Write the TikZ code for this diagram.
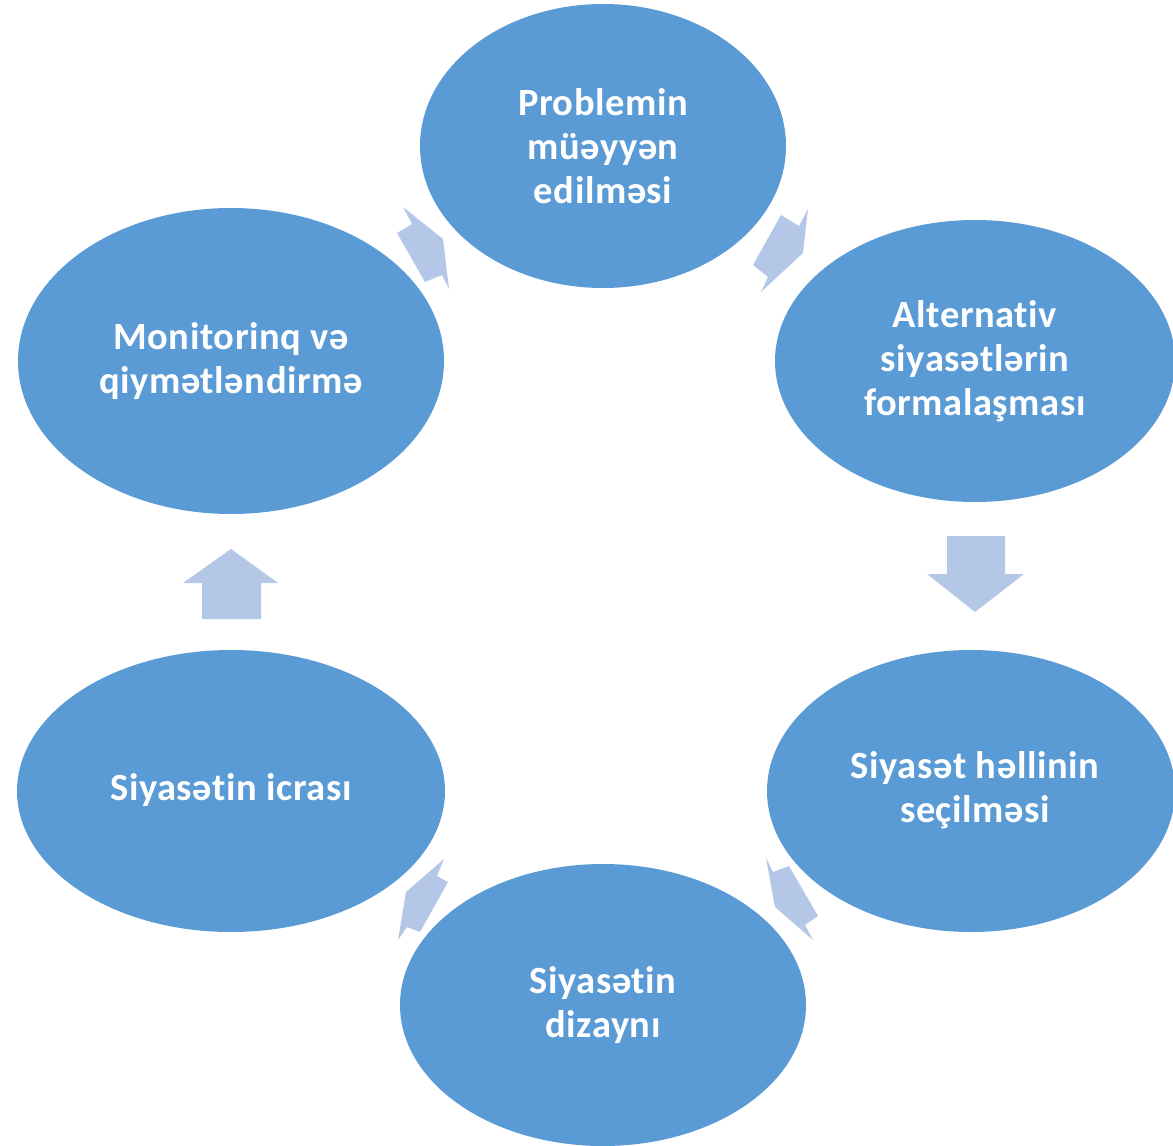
\documentclass[tikz,border=0pt]{standalone}
\usepackage{fontspec}
\setmainfont{Carlito}[Ligatures=NoCommon,LetterSpace=1.5]
\definecolor{ellblue}{HTML}{5B9BD5}
\definecolor{arrblue}{HTML}{B4C7E7}
\begin{document}
\begin{tikzpicture}[x=1pt,y=-1pt,
  lbl/.style={text=white,font=\fontsize{38.5}{44}\selectfont\bfseries,align=center,inner sep=0pt}]
\useasboundingbox (0,0) rectangle (1173,1146);
% ellipses
\fill[ellblue] (603,146) ellipse [x radius=183, y radius=142];
\fill[ellblue] (975,361) ellipse [x radius=200, y radius=141];
\fill[ellblue] (971,791) ellipse [x radius=204, y radius=141];
\fill[ellblue] (603,1005) ellipse [x radius=203, y radius=141];
\fill[ellblue] (231,791) ellipse [x radius=214, y radius=141];
\fill[ellblue] (231,361) ellipse [x radius=213, y radius=153];
% labels
\node[lbl] (p1) at (603,146) {Problemin\\müəyyən\\edilməsi};
\node[lbl] (p2) at (975,361) {Alternativ\\siyasətlərin\\formalaşması};
\node[lbl] (p3) at (975,790) {Siyasət həllinin\\seçilməsi};
\node[lbl] (p4) at (603,1005) {Siyasətin\\dizaynı};
\node[lbl] (p5) at (231,790) {Siyasətin icrası};
\node[lbl] (p6) at (231,361) {Monitorinq və\\qiymətləndirmə};
% arrows
\fill[arrblue] (781,215) -- (799,226) -- (808,209) -- (803,253) -- (761,292) -- (768,277) -- (753,265) -- cycle;
\fill[arrblue] (947,536) -- (1005,536) -- (1005,574) -- (1024,574) -- (975,612) -- (927,574) -- (947,574) -- cycle;
\fill[arrblue] (766,858) -- (773,872) -- (789,866) -- (818,916) -- (805,925) -- (813,940) -- (775,907) -- cycle;
\fill[arrblue] (444,859) -- (437,876) -- (448,882) -- (420,932) -- (407,927) -- (398,940) -- (406,892) -- cycle;
\fill[arrblue] (202,619) -- (261,619) -- (261,583) -- (278,583) -- (231,549) -- (183,583) -- (202,583) -- cycle;
\fill[arrblue] (403,207) -- (412,224) -- (397,233) -- (425,282) -- (442,275) -- (449,289) -- (443,239) -- cycle;
\end{tikzpicture}
\end{document}
